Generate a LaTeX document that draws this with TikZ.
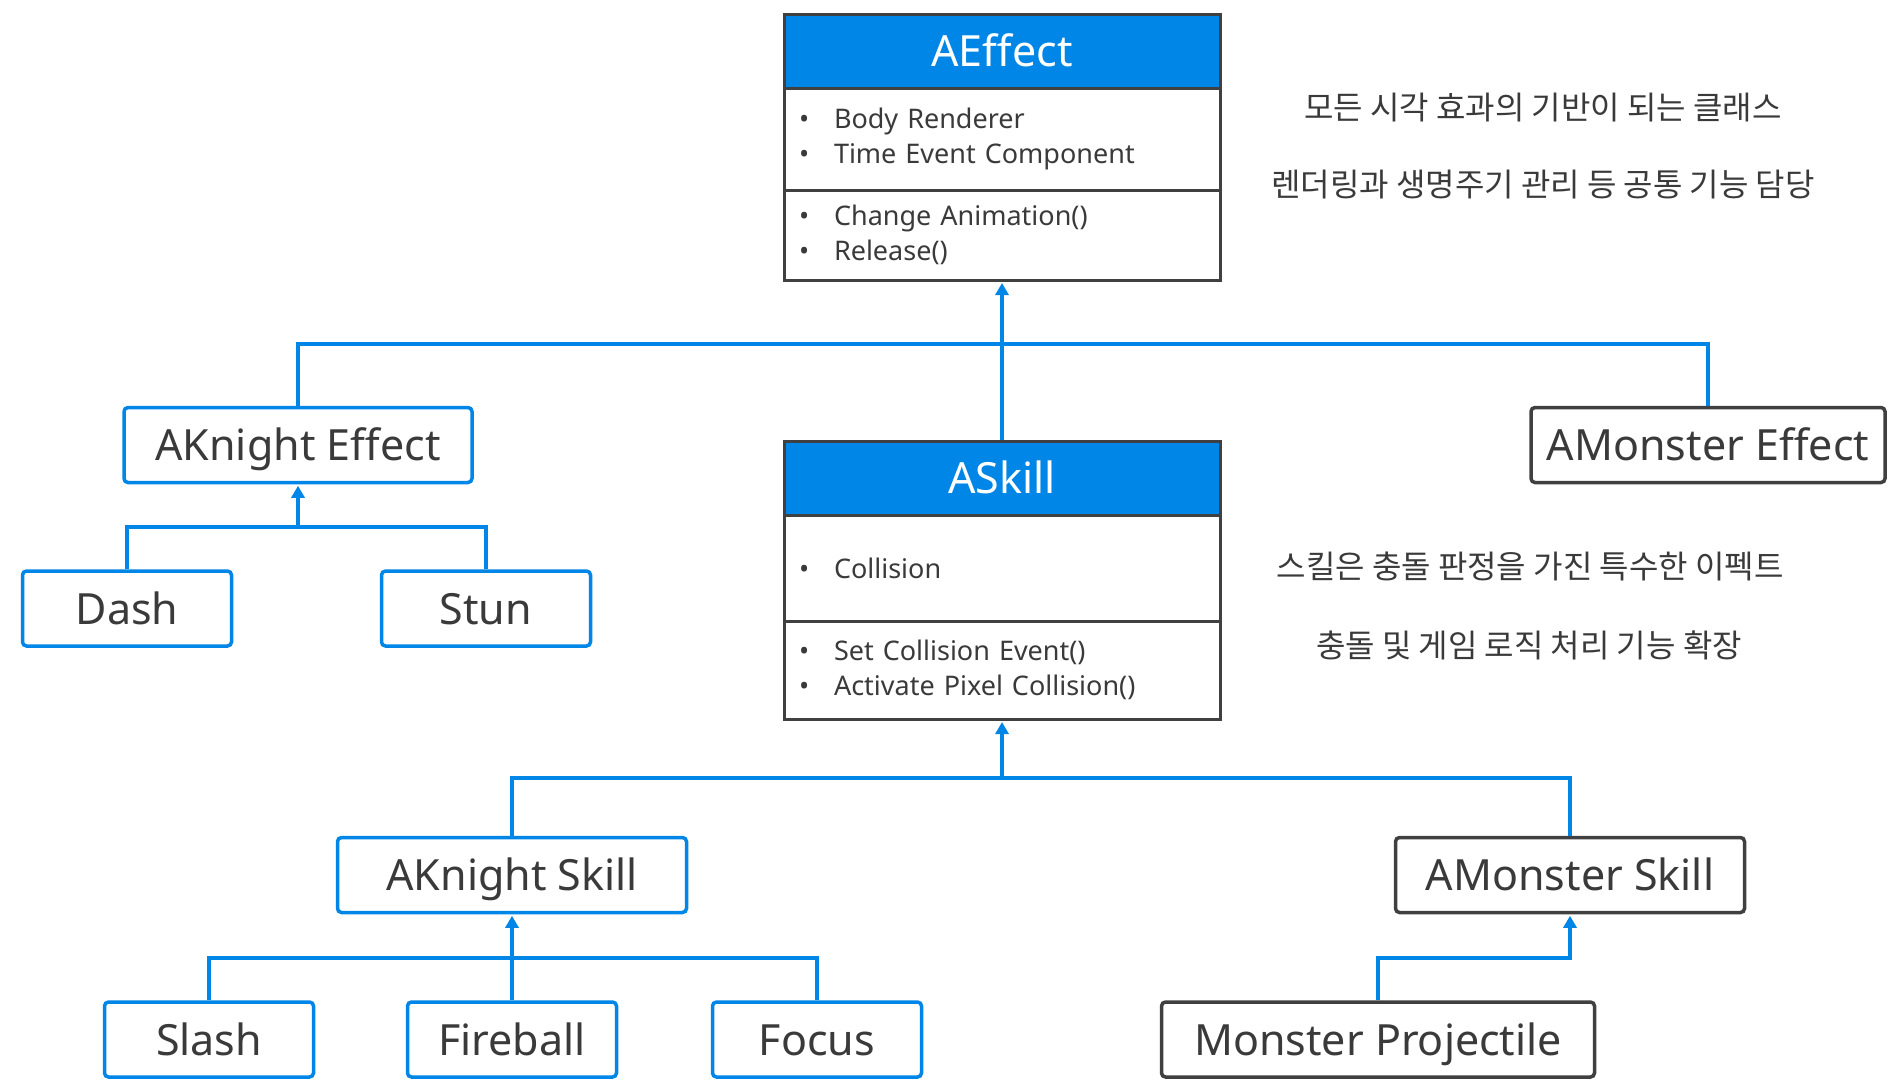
\documentclass[tikz,border=0pt]{standalone}
\usepackage{fontspec}
\setmainfont{Noto Sans}
\newfontfamily\kofont{Noto Sans CJK KR}
\usetikzlibrary{arrows.meta}

\definecolor{umlblue}{RGB}{0,134,230}
\definecolor{umlgray}{RGB}{64,64,64}
\definecolor{txtgray}{RGB}{58,58,58}
\newcommand{\itm}[1]{\makebox[35pt][l]{\textbullet}#1}

\tikzset{every picture/.style={line width=0.75pt}}
\tikzset{
  classhead/.style={draw=umlgray, line width=3pt, fill=umlblue, text=white, minimum width=436pt, minimum height=74pt, inner sep=0pt, text height=31pt, text depth=0pt, font=\fontsize{43}{50}\selectfont},
  classpart/.style={draw=umlgray, line width=3pt, fill=white, text=txtgray, minimum width=436pt, text width=406pt, inner sep=0pt, align=left, font=\fontsize{27}{35}\selectfont},
  knightbox/.style={draw=umlblue, line width=3.5pt, rounded corners=4pt, fill=white, text=txtgray, minimum height=75pt, inner sep=0pt, text height=31pt, text depth=0pt, font=\fontsize{43}{50}\selectfont},
  monsterbox/.style={knightbox, draw=umlgray},
  link/.style={draw=umlblue, line width=4pt},
  inherit/.style={link, -{Triangle[width=13pt,length=12pt]}, shorten >=1.5pt},
  note/.style={text=txtgray, font=\kofont\fontsize{32}{38}\selectfont}
}

\begin{document}
\begin{tikzpicture}[x=1pt,y=1pt,yscale=-1,xscale=1]
    \useasboundingbox (0,0) rectangle (1897,1087);

    %Shape: Class [id:effect]
    \node[classhead] (effect) at (1002,51) {AEffect};
    \node[classpart, minimum height=102pt] (effectattr) at (1002,139) {\itm{Body Renderer}\\\itm{Time Event Component}};
    \node[classpart, minimum height=90pt] (effectops) at (1002,235) {\itm{Change Animation()}\\\itm{Release()}};

    %Shape: Class [id:skill]
    \node[classhead] (skill) at (1002,478) {ASkill};
    \node[classpart, minimum height=106pt] (skillattr) at (1002,568) {\itm{Collision}};
    \node[classpart, minimum height=98pt] (skillops) at (1002,670) {\itm{Set Collision Event()}\\\itm{Activate Pixel Collision()}};

    %Shape: Rectangle [id:knighteffect]
    \node[knightbox, minimum width=348pt] (knighteffect) at (298,445) {AKnight Effect};
    %Shape: Rectangle [id:monstereffect]
    \node[monsterbox, minimum width=354pt] (monstereffect) at (1708,445) {AMonster Effect};
    %Shape: Rectangle [id:dash]
    \node[knightbox, minimum width=209pt] (dash) at (127,608.5) {Dash};
    %Shape: Rectangle [id:stun]
    \node[knightbox, minimum width=209pt] (stun) at (486,608.5) {Stun};
    %Shape: Rectangle [id:knightskill]
    \node[knightbox, minimum width=349pt] (knightskill) at (512,875) {AKnight Skill};
    %Shape: Rectangle [id:monsterskill]
    \node[monsterbox, minimum width=349pt] (monsterskill) at (1570,875) {AMonster Skill};
    %Shape: Rectangle [id:slash]
    \node[knightbox, minimum width=209pt] (slash) at (209,1039.5) {Slash};
    %Shape: Rectangle [id:fireball]
    \node[knightbox, minimum width=209pt] (fireball) at (512,1039.5) {Fireball};
    %Shape: Rectangle [id:focus]
    \node[knightbox, minimum width=209pt] (focus) at (817,1039.5) {Focus};
    %Shape: Rectangle [id:projectile]
    \node[monsterbox, minimum width=433pt] (projectile) at (1378,1039.5) {Monster Projectile};

    %Bus coordinates
    \coordinate (effbus) at (effect.south |- 0,344);
    \coordinate (kebus) at (knighteffect.south |- 0,527);
    \coordinate (skillbus) at (effect.south |- 0,778);
    \coordinate (ksbus) at (knightskill.south |- 0,958);
    \coordinate (msbus) at (monsterskill.south |- 0,958);

    %Connectors
    \draw[link] (knighteffect.north) |- (effbus) -| (monstereffect.north);
    \draw[inherit] (skill.north) -- (effectops.south);
    \draw[link] (dash.north) |- (kebus) -| (stun.north);
    \draw[inherit] (kebus) -- (knighteffect.south);
    \draw[link] (knightskill.north) |- (skillbus) -| (monsterskill.north);
    \draw[inherit] (skillbus) -- (skillops.south);
    \draw[link] (slash.north) |- (ksbus) -| (focus.north);
    \draw[inherit] (fireball.north) -- (knightskill.south);
    \draw[inherit] (projectile.north) |- (msbus) -- (monsterskill.south);

    % Text Node
    \node[note] (effnote1) at (1543,108) {모든 시각 효과의 기반이 되는 클래스};
    % Text Node
    \node[note] (effnote2) at (1543,185) {렌더링과 생명주기 관리 등 공통 기능 담당};
    % Text Node
    \node[note] (skillnote1) at (1530,566) {스킬은 충돌 판정을 가진 특수한 이펙트};
    % Text Node
    \node[note] (skillnote2) at (1529,645) {충돌 및 게임 로직 처리 기능 확장};
\end{tikzpicture}
\end{document}
